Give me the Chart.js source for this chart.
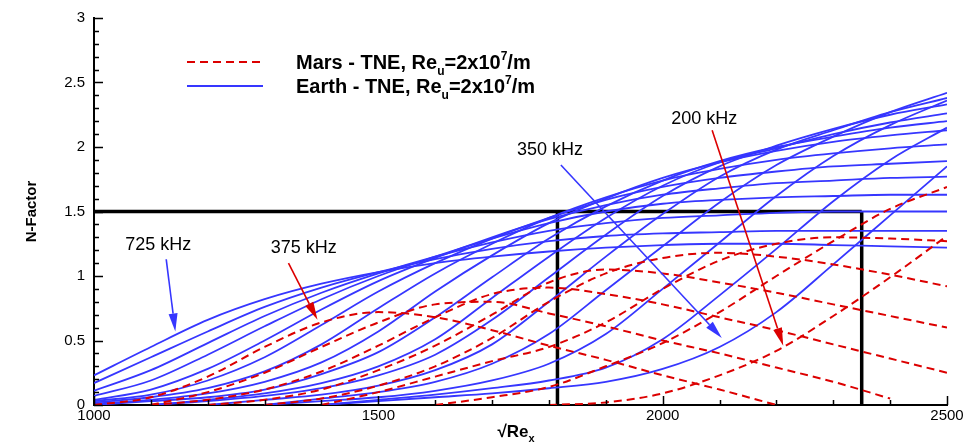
<!DOCTYPE html>
<html>
<head>
<meta charset="utf-8">
<script src="https://cdn.jsdelivr.net/npm/chart.js@4"></script>
<style>
  html, body { margin: 0; padding: 0; background: #fff; }
  #wrap { width: 967px; height: 445px; }
</style>
</head>
<body>
<div id="wrap"><canvas id="nfactor" width="967" height="445"></canvas></div>
<script>
// sqrt(Re_x) stations shared by every curve
const sqrtRe = [1000, 1100, 1200, 1300, 1400, 1500, 1600, 1700, 1800, 1900, 2000, 2100, 2200, 2300, 2400, 2500];

// Earth - TNE, N-factor per frequency
const earth725 = [0.23, 0.45, 0.66, 0.82, 0.94, 1.03, 1.10, 1.15, 1.19, 1.22, 1.24, 1.25, 1.25, 1.24, 1.23, 1.22];
const earth700 = [0.17, 0.37, 0.57, 0.76, 0.91, 1.03, 1.13, 1.21, 1.27, 1.31, 1.33, 1.34, 1.35, 1.35, 1.35, 1.35];
const earth675 = [0.11, 0.27, 0.48, 0.69, 0.87, 1.02, 1.15, 1.26, 1.35, 1.41, 1.45, 1.47, 1.49, 1.50, 1.50, 1.50];
const earth650 = [0.07, 0.19, 0.39, 0.61, 0.82, 1.00, 1.15, 1.29, 1.41, 1.50, 1.56, 1.59, 1.61, 1.62, 1.63, 1.63];
const earth625 = [0.04, 0.12, 0.28, 0.50, 0.74, 0.96, 1.14, 1.30, 1.44, 1.55, 1.63, 1.68, 1.72, 1.74, 1.76, 1.77];
const earth600 = [0.03, 0.08, 0.19, 0.37, 0.62, 0.88, 1.10, 1.29, 1.45, 1.59, 1.69, 1.76, 1.81, 1.85, 1.87, 1.89];
const earth575 = [0.02, 0.06, 0.13, 0.26, 0.47, 0.75, 1.02, 1.25, 1.45, 1.61, 1.74, 1.83, 1.90, 1.95, 1.99, 2.02];
const earth550 = [0.01, 0.04, 0.09, 0.18, 0.33, 0.57, 0.88, 1.16, 1.41, 1.60, 1.76, 1.88, 1.97, 2.04, 2.09, 2.13];
const earth525 = [0.00, 0.03, 0.06, 0.12, 0.24, 0.41, 0.68, 0.99, 1.29, 1.54, 1.74, 1.89, 2.00, 2.08, 2.15, 2.20];
const earth500 = [null, 0.00, 0.04, 0.09, 0.17, 0.30, 0.51, 0.83, 1.15, 1.45, 1.70, 1.88, 1.99, 2.10, 2.19, 2.26];
const earth475 = [null, 0.00, 0.03, 0.07, 0.13, 0.23, 0.39, 0.66, 0.99, 1.32, 1.62, 1.85, 2.01, 2.14, 2.25, 2.33];
const earth450 = [null, null, 0.00, 0.04, 0.08, 0.15, 0.27, 0.47, 0.80, 1.15, 1.48, 1.77, 1.98, 2.13, 2.27, 2.38];
const earth425 = [null, null, null, 0.00, 0.05, 0.10, 0.18, 0.32, 0.55, 0.89, 1.23, 1.57, 1.86, 2.08, 2.27, 2.42];
const earth400 = [null, null, null, 0.00, 0.03, 0.06, 0.11, 0.19, 0.32, 0.55, 0.90, 1.26, 1.62, 1.93, 2.17, 2.36];
const earth375 = [null, null, null, null, 0.00, 0.04, 0.08, 0.13, 0.19, 0.29, 0.51, 0.85, 1.21, 1.58, 1.90, 2.15];
const earth350 = [null, null, null, null, 0.00, 0.03, 0.06, 0.09, 0.13, 0.18, 0.28, 0.45, 0.72, 1.09, 1.47, 1.85];

// Mars - TNE, N-factor per frequency
const mars375 = [0.00, 0.06, 0.22, 0.45, 0.64, 0.72, 0.68, 0.58, 0.46, 0.35, 0.23, 0.12, 0.00, null, null, null];
const mars350 = [null, 0.00, 0.10, 0.25, 0.45, 0.64, 0.78, 0.80, 0.71, 0.61, 0.50, 0.40, 0.29, 0.18, 0.05, null];
const mars325 = [null, 0.00, 0.04, 0.12, 0.26, 0.46, 0.68, 0.86, 0.91, 0.86, 0.78, 0.68, 0.58, 0.47, 0.36, 0.25];
const mars300 = [null, null, 0.00, 0.04, 0.12, 0.27, 0.46, 0.70, 0.95, 1.05, 1.02, 0.95, 0.87, 0.78, 0.69, 0.60];
const mars275 = [null, null, null, 0.00, 0.05, 0.15, 0.30, 0.52, 0.80, 1.02, 1.14, 1.18, 1.15, 1.09, 1.01, 0.92];
const mars250 = [null, null, null, null, 0.00, 0.10, 0.22, 0.34, 0.45, 0.64, 0.90, 1.12, 1.25, 1.30, 1.29, 1.27];
const mars225 = [null, null, null, null, null, null, 0.00, 0.06, 0.14, 0.30, 0.48, 0.72, 1.00, 1.27, 1.52, 1.69];
const mars200 = [null, null, null, null, null, null, null, null, 0.00, 0.02, 0.09, 0.23, 0.42, 0.69, 0.99, 1.31];

// N = 1.5 threshold box
const boxTopX = [1000, 2350];
const boxTopN = [1.5, 1.5];
const boxLeftX = [1815, 1815];
const boxLeftN = [0, 1.5];
const boxRightX = [2350, 2350];
const boxRightN = [0, 1.5];

const earthSeries = [earth725, earth700, earth675, earth650, earth625, earth600, earth575, earth550,
                     earth525, earth500, earth475, earth450, earth425, earth400, earth375, earth350];
const marsSeries = [mars375, mars350, mars325, mars300, mars275, mars250, mars225, mars200];

const BLUE = '#3636ff';
const RED = '#dc0000';
const FONT = '"Liberation Sans", Arial, Helvetica, sans-serif';

function toPoints(xs, ys) {
    return xs.map((x, i) => ({ x: x, y: ys[i] })).filter(p => p.y !== null);
}

const datasets = [];
marsSeries.forEach(ys => {
    datasets.push({
        data: toPoints(sqrtRe, ys),
        borderColor: RED,
        borderWidth: 2,
        borderDash: [8, 5],
        cubicInterpolationMode: 'monotone'
    });
});
earthSeries.forEach(ys => {
    datasets.push({
        data: toPoints(sqrtRe, ys),
        borderColor: BLUE,
        borderWidth: 1.8,
        cubicInterpolationMode: 'monotone'
    });
});
[[boxTopX, boxTopN], [boxLeftX, boxLeftN], [boxRightX, boxRightN]].forEach(([xs, ys]) => {
    datasets.push({
        data: toPoints(xs, ys),
        borderColor: '#000',
        borderWidth: 3.5,
        tension: 0
    });
});

// labels with arrows, in data coordinates
const callouts = [
    { text: '725 kHz', color: BLUE, at: [1113, 1.24], from: [1127, 1.13], to: [1143, 0.57] },
    { text: '375 kHz', color: RED, at: [1369, 1.22], from: [1342, 1.10], to: [1393, 0.66] },
    { text: '350 kHz', color: BLUE, at: [1802, 1.98], from: [1821, 1.86], to: [2104, 0.52] },
    { text: '200 kHz', color: RED, at: [2073, 2.22], from: [2087, 2.13], to: [2212, 0.46] }
];

const legendRows = [
    { color: RED, dash: [8, 5], y: 62, parts: [['Mars - TNE, Re', 0], ['u', -1], ['=2x10', 0], ['7', 1], ['/m', 0]] },
    { color: BLUE, dash: [], y: 86, parts: [['Earth - TNE, Re', 0], ['u', -1], ['=2x10', 0], ['7', 1], ['/m', 0]] }
];

function drawRich(ctx, parts, x, baseline, size) {
    parts.forEach(([t, shift]) => {
        const s = shift === 0 ? size : Math.round(size * 0.62);
        ctx.font = 'bold ' + s + 'px ' + FONT;
        const dy = shift === -1 ? size * 0.3 : (shift === 1 ? -size * 0.45 : 0);
        ctx.fillText(t, x, baseline + dy);
        x += ctx.measureText(t).width;
    });
    return x;
}

function drawArrow(ctx, x0, y0, x1, y1, color) {
    const a = Math.atan2(y1 - y0, x1 - x0);
    const head = 18, half = 4.5;
    const bx = x1 - head * Math.cos(a), by = y1 - head * Math.sin(a);
    ctx.strokeStyle = color;
    ctx.fillStyle = color;
    ctx.lineWidth = 1.6;
    ctx.beginPath();
    ctx.moveTo(x0, y0);
    ctx.lineTo(bx, by);
    ctx.stroke();
    ctx.beginPath();
    ctx.moveTo(x1, y1);
    ctx.lineTo(bx + half * Math.sin(a), by - half * Math.cos(a));
    ctx.lineTo(bx - half * Math.sin(a), by + half * Math.cos(a));
    ctx.closePath();
    ctx.fill();
}

const decor = {
    id: 'decor',
    afterDraw(chart) {
        const ctx = chart.ctx;
        const xs = chart.scales.x, ys = chart.scales.y;
        const area = chart.chartArea;
        ctx.save();

        // inward tick marks
        ctx.strokeStyle = '#000';
        ctx.lineWidth = 1.5;
        ctx.beginPath();
        for (let v = 1000; v <= 2500; v += 100) {
            const px = Math.round(xs.getPixelForValue(v)) + 0.5;
            const len = v % 500 === 0 ? 9 : 5;
            ctx.moveTo(px, area.bottom);
            ctx.lineTo(px, area.bottom - len);
        }
        for (let k = 0; k <= 30; k++) {
            const py = Math.round(ys.getPixelForValue(k / 10)) + 0.5;
            const len = k % 5 === 0 ? 9 : 5;
            ctx.moveTo(area.left, py);
            ctx.lineTo(area.left + len, py);
        }
        ctx.stroke();

        // callouts
        callouts.forEach(c => {
            ctx.font = '18px ' + FONT;
            ctx.fillStyle = '#000';
            ctx.textAlign = 'center';
            ctx.textBaseline = 'middle';
            ctx.fillText(c.text, xs.getPixelForValue(c.at[0]), ys.getPixelForValue(c.at[1]));
            drawArrow(ctx,
                xs.getPixelForValue(c.from[0]), ys.getPixelForValue(c.from[1]),
                xs.getPixelForValue(c.to[0]), ys.getPixelForValue(c.to[1]), c.color);
        });

        // legend
        ctx.textAlign = 'left';
        ctx.textBaseline = 'alphabetic';
        legendRows.forEach(r => {
            ctx.strokeStyle = r.color;
            ctx.lineWidth = 2;
            ctx.setLineDash(r.dash);
            ctx.beginPath();
            ctx.moveTo(187, r.y);
            ctx.lineTo(263, r.y);
            ctx.stroke();
            ctx.setLineDash([]);
            ctx.fillStyle = '#000';
            drawRich(ctx, r.parts, 296, r.y + 7, 20);
        });

        // x axis title
        ctx.fillStyle = '#000';
        ctx.font = 'bold 17px ' + FONT;
        const main = '\u221ARe';
        const w = ctx.measureText(main).width;
        const cx = (area.left + area.right) / 2;
        drawRich(ctx, [[main, 0], ['x', -1]], cx - (w + 7) / 2 - 4, 437, 17);
        ctx.restore();
    }
};

new Chart(document.getElementById('nfactor').getContext('2d'), {
    type: 'line',
    data: { datasets: datasets },
    options: {
        responsive: false,
        animation: false,
        devicePixelRatio: 1,
        layout: { padding: { top: 15, right: 20, left: 0, bottom: 0 } },
        elements: { point: { radius: 0 } },
        plugins: { legend: { display: false }, tooltip: { enabled: false } },
        scales: {
            x: {
                type: 'linear',
                min: 1000,
                max: 2500,
                grid: { display: false, drawTicks: false },
                border: { display: true, color: '#000', width: 2 },
                ticks: { stepSize: 500, padding: 2, maxRotation: 0, color: '#000', font: { family: FONT, size: 15 },
                         callback: v => String(v) },
                afterFit: s => { s.height = 40; }
            },
            y: {
                min: 0,
                max: 3,
                grid: { display: false, drawTicks: false },
                border: { display: true, color: '#000', width: 2 },
                ticks: { stepSize: 0.5, padding: 9, color: '#000', font: { family: FONT, size: 15 },
                         callback: v => String(v) },
                title: { display: true, text: 'N-Factor', color: '#000', font: { family: FONT, size: 15, weight: 'bold' }, padding: { top: 23, bottom: 0 } },
                afterFit: s => { s.width = 94; }
            }
        }
    },
    plugins: [decor]
});
</script>
</body>
</html>
